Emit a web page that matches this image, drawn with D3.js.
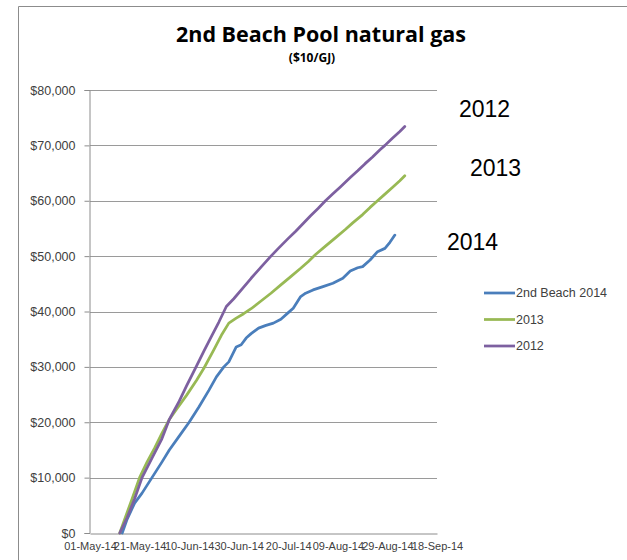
<!DOCTYPE html>
<html>
<head>
<meta charset="utf-8">
<script src="https://cdn.jsdelivr.net/npm/d3@7"></script>
<style>
  body { margin: 0; background: #fff; }
  svg { display: block; }
</style>
</head>
<body>
<svg id="chart" width="627" height="560"></svg>
<script>
// Chart data (days after 01-May, cumulative $)
const startDate = new Date(2014, 4, 1);
const tickLabels = ["2014-05-01", "2014-05-21", "2014-06-10", "2014-06-30", "2014-07-20", "2014-08-09", "2014-08-29", "2014-09-18"];
const yTicks = [0, 10000, 20000, 30000, 40000, 50000, 60000, 70000, 80000];

const days2014 = [13, 15, 18, 21, 25, 29, 32, 36, 40, 44, 48, 51, 54, 56, 59, 61, 63, 65, 68, 71, 74, 77, 80, 82, 85, 87, 90, 94, 98, 102, 105, 108, 110, 113, 116, 119, 121, 123];
const vals2014 = [0, 2500, 5400, 7200, 10000, 12800, 15000, 17500, 20000, 22800, 25800, 28200, 30000, 30900, 33600, 34000, 35200, 36000, 37000, 37500, 37900, 38600, 39800, 40600, 42700, 43300, 43900, 44500, 45100, 46000, 47300, 47900, 48100, 49300, 50800, 51400, 52500, 53800];

const days2013 = [12, 14, 17, 20, 23, 26, 29, 32, 35, 39, 43, 46, 50, 53, 56, 59, 62, 65, 69, 73, 77, 81, 85, 88, 91, 95, 99, 103, 106, 110, 113, 116, 119, 122, 125, 127];
const vals2013 = [0, 2500, 6200, 10000, 12800, 15300, 18000, 20500, 22400, 24900, 27600, 29800, 33100, 35700, 37900, 38800, 39600, 40500, 41900, 43300, 44800, 46300, 47800, 49000, 50300, 51800, 53300, 54800, 56000, 57500, 58800, 60000, 61200, 62400, 63600, 64500];

const days2012 = [12, 15, 18, 21, 25, 29, 32, 36, 39, 43, 46, 49, 52, 55, 58, 62, 65, 69, 73, 76, 80, 83, 86, 89, 92, 95, 98, 101, 105, 108, 111, 114, 117, 119, 122, 125, 127];
const vals2012 = [0, 2800, 6200, 10000, 13500, 17000, 20500, 23800, 26600, 30200, 32900, 35500, 38100, 40900, 42300, 44400, 46000, 48000, 50000, 51400, 53200, 54500, 55900, 57300, 58600, 60000, 61250, 62500, 64200, 65400, 66700, 67900, 69200, 70000, 71300, 72500, 73400];

const seriesNames = ["2nd Beach 2014", "2013", "2012"];
const seriesColors = ["#4a7ebb", "#98b954", "#7d60a0"];
const endLabels = ["2014", "2013", "2012"];

const svg = d3.select("#chart");
const parse = d3.timeParse("%Y-%m-%d");
const dayToDate = d => new Date(startDate.getTime() + d * 864e5);

const series = [
  { name: seriesNames[0], color: seriesColors[0], points: days2014.map((d, i) => ({ date: dayToDate(d), value: vals2014[i] })) },
  { name: seriesNames[1], color: seriesColors[1], points: days2013.map((d, i) => ({ date: dayToDate(d), value: vals2013[i] })) },
  { name: seriesNames[2], color: seriesColors[2], points: days2012.map((d, i) => ({ date: dayToDate(d), value: vals2012[i] })) }
];

// Scales
const x = d3.scaleTime()
  .domain([parse(tickLabels[0]), parse(tickLabels[tickLabels.length - 1])])
  .range([90, 437]);
const y = d3.scaleLinear().domain([0, 80000]).range([533, 90]);

// Outer chart frame (cropped)
svg.append("path")
  .attr("d", "M18.5,560V6.5H627")
  .attr("fill", "none")
  .attr("stroke", "#8c8c8c");

// Gridlines
svg.append("g")
  .selectAll("line")
  .data(yTicks.slice(1))
  .enter()
  .append("line")
  .attr("x1", 90).attr("x2", 437)
  .attr("y1", d => Math.round(y(d)) + 0.5)
  .attr("y2", d => Math.round(y(d)) + 0.5)
  .attr("stroke", "#9a9a9a");

// Y axis
const yAxis = svg.append("g")
  .attr("transform", "translate(89.5,0)")
  .call(d3.axisLeft(y).tickValues(yTicks).tickSize(5).tickPadding(9)
    .tickFormat(d => "$" + d3.format(",")(d)));
yAxis.select(".domain").attr("stroke", "#8c8c8c");
yAxis.selectAll(".tick line").attr("stroke", "#8c8c8c");
yAxis.selectAll("text")
  .attr("font-family", "Liberation Sans, Arial, sans-serif")
  .attr("font-size", 12.5)
  .attr("fill", "#404040");

// X axis
const xAxis = svg.append("g")
  .attr("transform", "translate(0,533.5)")
  .call(d3.axisBottom(x).tickValues(tickLabels.map(parse)).tickSize(0).tickPadding(9)
    .tickFormat(d3.timeFormat("%d-%b-%y")));
xAxis.select(".domain").attr("stroke", "#8c8c8c");
xAxis.selectAll("text")
  .attr("font-family", "Liberation Sans, Arial, sans-serif")
  .attr("font-size", 11)
  .attr("fill", "#404040");

// Lines
const line = d3.line()
  .x(d => x(d.date))
  .y(d => y(d.value));

svg.append("g")
  .selectAll("path")
  .data(series)
  .enter()
  .append("path")
  .attr("d", d => line(d.points))
  .attr("fill", "none")
  .attr("stroke", d => d.color)
  .attr("stroke-width", 2.75)
  .attr("stroke-linejoin", "round")
  .attr("stroke-linecap", "round");

// Big year annotations
const annPos = [[447, 250], [470, 176], [459, 117]];
svg.append("g")
  .selectAll("text")
  .data(endLabels)
  .enter()
  .append("text")
  .attr("x", (d, i) => annPos[i][0])
  .attr("y", (d, i) => annPos[i][1])
  .attr("font-family", "Liberation Sans, Arial, sans-serif")
  .attr("font-size", 23)
  .attr("fill", "#000")
  .text(d => d);

// Title
svg.append("text")
  .attr("x", 321).attr("y", 42)
  .attr("text-anchor", "middle")
  .attr("font-family", "Open Sans, sans-serif")
  .attr("font-weight", "bold")
  .attr("font-size", 21.5)
  .attr("fill", "#000")
  .text("2nd Beach Pool natural gas");
svg.append("text")
  .attr("x", 312).attr("y", 62)
  .attr("text-anchor", "middle")
  .attr("font-family", "Open Sans, sans-serif")
  .attr("font-weight", "bold")
  .attr("font-size", 12)
  .attr("fill", "#000")
  .text("($10/GJ)");

// Legend
const legend = svg.append("g")
  .selectAll("g")
  .data(series)
  .enter()
  .append("g")
  .attr("transform", (d, i) => `translate(484,${293 + i * 26.5})`);
legend.append("line")
  .attr("x1", 0).attr("x2", 31)
  .attr("stroke", d => d.color)
  .attr("stroke-width", 2.75);
legend.append("text")
  .attr("x", 32).attr("dy", "0.35em")
  .attr("font-family", "Liberation Sans, Arial, sans-serif")
  .attr("font-size", 12.5)
  .attr("fill", "#404040")
  .text(d => d.name);
</script>
</body>
</html>
